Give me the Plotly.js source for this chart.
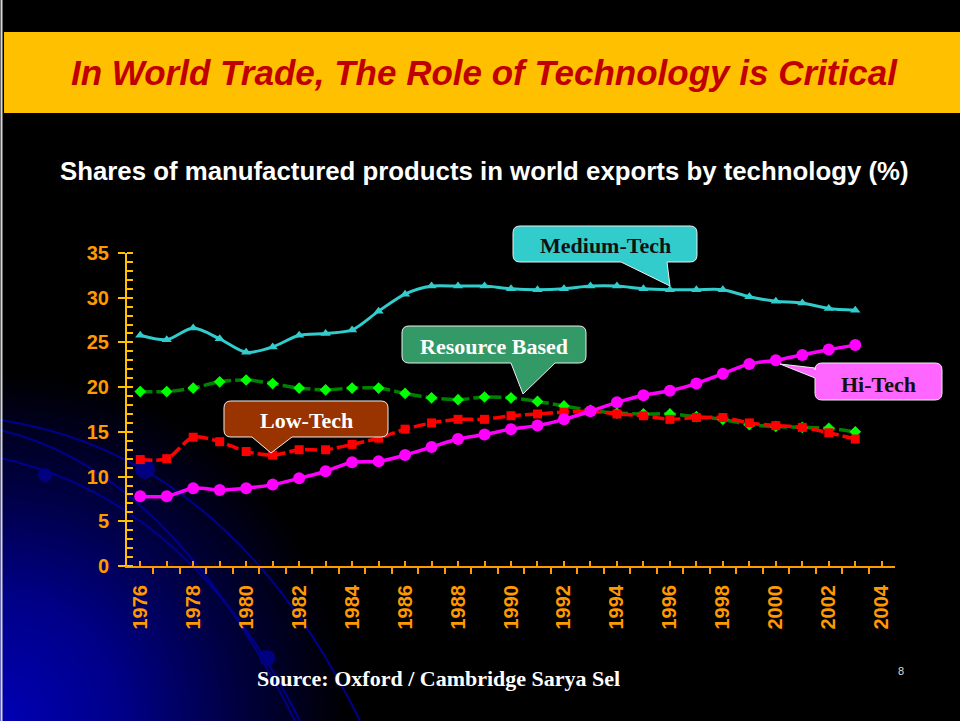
<!DOCTYPE html>
<html>
<head>
<meta charset="utf-8">
<script src="https://cdn.plot.ly/plotly-3.0.1.min.js"></script>
<style>
  html, body { margin:0; padding:0; background:#000; }
  #chart { width:960px; height:721px;
    background: radial-gradient(circle 350px at 0px 721px, #0000b4 0%, #000088 35%, #00003c 70%, #000000 100%), #000; }
</style>
</head>
<body>
<div id="chart"></div>
<script>
// ---- data ----
const years = [1976,1977,1978,1979,1980,1981,1982,1983,1984,1985,1986,1987,1988,1989,
               1990,1991,1992,1993,1994,1995,1996,1997,1998,1999,2000,2001,2002,2003];
const mediumTech = [25.8,25.3,26.6,25.4,23.9,24.5,25.8,26.0,26.4,28.5,30.4,31.3,31.3,31.3,
                    31.0,30.9,31.0,31.3,31.3,31.0,30.9,30.9,30.9,30.1,29.6,29.4,28.8,28.6];
const resourceBased = [19.5,19.5,19.9,20.6,20.8,20.4,19.9,19.7,19.9,19.9,19.3,18.8,18.6,18.9,
                       18.8,18.4,17.9,17.4,17.1,17.0,17.0,16.7,16.4,15.8,15.6,15.5,15.4,15.0];
const lowTech = [11.9,12.0,14.4,13.9,12.8,12.4,13.0,13.0,13.6,14.3,15.3,16.0,16.4,16.4,
                 16.8,17.0,17.2,17.3,17.0,16.8,16.4,16.6,16.6,16.0,15.7,15.5,14.9,14.2];
const hiTech = [7.8,7.8,8.7,8.5,8.7,9.1,9.8,10.6,11.6,11.7,12.4,13.3,14.2,14.7,
                15.3,15.7,16.4,17.3,18.3,19.1,19.6,20.4,21.5,22.6,23.0,23.6,24.2,24.7];
const tickYears = [1976,1977,1978,1979,1980,1981,1982,1983,1984,1985,1986,1987,1988,1989,1990,
                   1991,1992,1993,1994,1995,1996,1997,1998,1999,2000,2001,2002,2003,2004];
const tickLabels = ['1976','','1978','','1980','','1982','','1984','','1986','','1988','','1990',
                    '','1992','','1994','','1996','','1998','','2000','','2002','','2004'];
const seriesNames = ['Medium-Tech','Resource Based','Low-Tech','Hi-Tech'];
const titleText = 'In World Trade, The Role of Technology is Critical';
const subtitleText = 'Shares of manufactured products in world exports by technology (%)';
const sourceText = 'Source: Oxford / Cambridge Sarya Sel';

// ---- helpers (pixel -> paper) ----
const W = 960, H = 721;
const X = p => (p / W).toFixed(5);
const Y = p => (1 - p / H).toFixed(5);
const NX = p => p / W, NY = p => 1 - p / H;

function callout(x0, y0, x1, y1, r, side, ptr) {
  let d = `M${X(x0 + r)},${Y(y0)} L${X(x1 - r)},${Y(y0)} Q${X(x1)},${Y(y0)} ${X(x1)},${Y(y0 + r)}`;
  d += ` L${X(x1)},${Y(y1 - r)} Q${X(x1)},${Y(y1)} ${X(x1 - r)},${Y(y1)}`;
  if (side === 'bottom') ptr.forEach(p => { d += ` L${X(p[0])},${Y(p[1])}`; });
  d += ` L${X(x0 + r)},${Y(y1)} Q${X(x0)},${Y(y1)} ${X(x0)},${Y(y1 - r)}`;
  if (side === 'left') ptr.forEach(p => { d += ` L${X(p[0])},${Y(p[1])}`; });
  d += ` L${X(x0)},${Y(y0 + r)} Q${X(x0)},${Y(y0)} ${X(x0 + r)},${Y(y0)} Z`;
  return d;
}
function qpath(p0, p1, p2) {
  return `M${X(p0[0])},${Y(p0[1])} Q${X(p1[0])},${Y(p1[1])} ${X(p2[0])},${Y(p2[1])}`;
}

const traces = [
  { x: years, y: mediumTech, name: seriesNames[0], mode: 'lines+markers',
    line: { color: '#33CCCC', width: 3, shape: 'spline', smoothing: 0.8 },
    marker: { symbol: 'triangle-up', size: 9, color: '#33CCCC' } },
  { x: years, y: resourceBased, name: seriesNames[1], mode: 'lines+markers',
    line: { color: '#008000', width: 3.5, dash: '12px,4px', shape: 'spline', smoothing: 0.8 },
    marker: { symbol: 'diamond', size: 9, color: '#00FF00' } },
  { x: years, y: lowTech, name: seriesNames[2], mode: 'lines+markers',
    line: { color: '#FF0000', width: 3.5, dash: '12px,4px', shape: 'spline', smoothing: 0.8 },
    marker: { symbol: 'square', size: 9, color: '#FF0000' } },
  { x: years, y: hiTech, name: seriesNames[3], mode: 'lines+markers',
    line: { color: '#FF00FF', width: 3.5, shape: 'spline', smoothing: 0.8 },
    marker: { symbol: 'circle', size: 12, color: '#FF00FF' } }
];

const arcColor = '#00008f';
const dotColor = '#000080';
const shapes = [
  { type: 'path', xref: 'paper', yref: 'paper', layer: 'below', path: qpath([0,420],[230,455],[360,721]), line: { color: arcColor, width: 2 } },
  { type: 'path', xref: 'paper', yref: 'paper', layer: 'below', path: qpath([0,430],[170,470],[295,721]), line: { color: arcColor, width: 2 } },
  { type: 'path', xref: 'paper', yref: 'paper', layer: 'below', path: qpath([0,458],[190,500],[300,721]), line: { color: arcColor, width: 2 } },
  { type: 'circle', xref: 'paper', yref: 'paper', layer: 'below', x0: NX(38), x1: NX(52), y0: NY(482), y1: NY(468), fillcolor: dotColor, line: { width: 0 } },
  { type: 'circle', xref: 'paper', yref: 'paper', layer: 'below', x0: NX(135), x1: NX(155), y0: NY(479), y1: NY(459), fillcolor: dotColor, line: { width: 0 } },
  { type: 'circle', xref: 'paper', yref: 'paper', layer: 'below', x0: NX(259), x1: NX(275), y0: NY(666), y1: NY(650), fillcolor: dotColor, line: { width: 0 } },
  { type: 'line', xref: 'paper', yref: 'paper', layer: 'above', x0: NX(1.5), x1: NX(1.5), y0: 0, y1: 1, line: { color: '#d8d8d8', width: 2 } },
  { type: 'rect', xref: 'paper', yref: 'paper', layer: 'below', x0: NX(4), x1: 1, y0: NY(113), y1: NY(32), fillcolor: '#FFC000', line: { width: 0 } },
  { type: 'path', xref: 'paper', yref: 'paper', layer: 'above', fillcolor: '#33CCCC', line: { color: '#eeeeee', width: 1 },
    path: callout(513, 226, 697, 262, 7, 'bottom', [[667,262],[670,286],[621,262]]) },
  { type: 'path', xref: 'paper', yref: 'paper', layer: 'above', fillcolor: '#339966', line: { color: '#eeeeee', width: 1 },
    path: callout(402, 326, 586, 363, 7, 'bottom', [[555,363],[523,394],[511,363]]) },
  { type: 'path', xref: 'paper', yref: 'paper', layer: 'above', fillcolor: '#993300', line: { color: '#eeeeee', width: 1 },
    path: callout(224, 401, 388, 437, 7, 'bottom', [[292,437],[271,453],[252,437]]) },
  { type: 'path', xref: 'paper', yref: 'paper', layer: 'above', fillcolor: '#FF66FF', line: { color: '#eeeeee', width: 1 },
    path: callout(815, 363, 942, 400, 7, 'left', [[815,378],[780,364],[815,368]]) }
];

const serif = '"Liberation Serif", "Times New Roman", serif';
const sans = '"Liberation Sans", Arial, sans-serif';
function ann(px, py, text, font) {
  return { xref: 'paper', yref: 'paper', x: NX(px), y: NY(py), xanchor: 'center', yanchor: 'middle',
           text: text, showarrow: false, font: font };
}
const annotations = [
  ann(484, 73, titleText, { family: '"Liberation Sans Narrow", "Arial Narrow", ' + sans, size: 35, color: '#C00000', weight: 'bold', style: 'italic' }),
  ann(484, 171, subtitleText, { family: sans, size: 25.8, color: '#FFFFFF', weight: 'bold' }),
  ann(438, 678, sourceText, { family: serif, size: 22, color: '#FFFFFF', weight: 'bold' }),
  ann(901, 671, '8', { family: sans, size: 11, color: '#dddddd' }),
  ann(605, 245, seriesNames[0], { family: serif, size: 22, color: '#111111', weight: 'bold' }),
  ann(494, 346, seriesNames[1], { family: serif, size: 22, color: '#FFFFFF', weight: 'bold' }),
  ann(306, 420, seriesNames[2], { family: serif, size: 22, color: '#FFFFFF', weight: 'bold' }),
  ann(878, 384, seriesNames[3], { family: serif, size: 22, color: '#111111', weight: 'bold' })
];

const layout = {
  width: W, height: H,
  margin: { l: 0, r: 0, t: 0, b: 0 },
  paper_bgcolor: 'rgba(0,0,0,0)',
  plot_bgcolor: 'rgba(0,0,0,0)',
  showlegend: false,
  xaxis: {
    domain: [NX(127), NX(895)],
    range: [1975.5, 2004.5],
    showgrid: false, zeroline: false,
    showline: true, linecolor: '#FF9900', linewidth: 2,
    tickmode: 'array', tickvals: tickYears, ticktext: tickLabels,
    ticks: 'inside', ticklen: 5, tickwidth: 2, tickcolor: '#FF9900',
    minor: { tick0: 1975.5, dtick: 1, ticks: 'outside', ticklen: 6, tickwidth: 2, tickcolor: '#FF9900', showgrid: false },
    tickangle: -90,
    ticklabelstandoff: 9,
    tickfont: { family: sans, size: 20, color: '#FF9900', weight: 'bold' },
    fixedrange: true
  },
  yaxis: {
    domain: [NY(566), NY(253)],
    range: [0, 35],
    showgrid: false, zeroline: false,
    showline: true, linecolor: '#FFC000', linewidth: 2,
    tickmode: 'linear', tick0: 0, dtick: 5,
    ticks: 'outside', ticklen: 7, tickwidth: 2, tickcolor: '#FFC000',
    minor: { dtick: 1, ticks: 'inside', ticklen: 6, tickwidth: 2, tickcolor: '#FFC000', showgrid: false },
    ticklabelstandoff: 5,
    tickfont: { family: sans, size: 20, color: '#FF9900', weight: 'bold' },
    fixedrange: true
  },
  shapes: shapes,
  annotations: annotations
};

Plotly.newPlot('chart', traces, layout, { displayModeBar: false, staticPlot: true });
</script>
</body>
</html>
